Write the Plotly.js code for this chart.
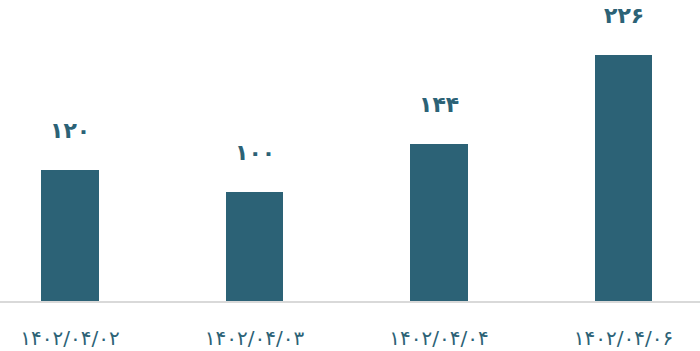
<!DOCTYPE html>
<html>
<head>
<meta charset="utf-8">
<script src="https://cdn.plot.ly/plotly-3.0.1.min.js"></script>
<style>
  html, body { margin: 0; padding: 0; background: #ffffff; }
  #chart { width: 700px; height: 351px; }
</style>
</head>
<body>
<div id="chart"></div>
<script>
// Daily totals by Jalali date
const categories = ['۱۴۰۲/۰۴/۰۲', '۱۴۰۲/۰۴/۰۳', '۱۴۰۲/۰۴/۰۴', '۱۴۰۲/۰۴/۰۶'];
const values = [120, 100, 144, 226];

const barColor = '#2c6276';
const textColor = '#2c6276';

// Render Western digits as Persian digits
function toPersianDigits(n) {
  const fa = '۰۱۲۳۴۵۶۷۸۹';
  return String(n).replace(/[0-9]/g, d => fa[+d]);
}

const trace = {
  type: 'bar',
  x: categories,
  y: values,
  width: 0.314,
  marker: { color: barColor },
  hoverinfo: 'none'
};

const annotations = categories.map((c, i) => ({
  x: c,
  y: values[i],
  xref: 'x',
  yref: 'y',
  text: toPersianDigits(values[i]),
  showarrow: false,
  yanchor: 'middle',
  yshift: 40,
  font: { family: 'DejaVu Sans, Noto Sans, sans-serif', size: 22, color: textColor, weight: 'bold' }
}));

const layout = {
  width: 700,
  height: 351,
  margin: { l: 0, r: 0, t: 20, b: 50 },
  paper_bgcolor: '#ffffff',
  plot_bgcolor: '#ffffff',
  showlegend: false,
  bargap: 0,
  xaxis: {
    type: 'category',
    range: [-0.3794, 3.4146],
    showline: true,
    linecolor: '#d9d9d9',
    linewidth: 2,
    showgrid: false,
    zeroline: false,
    ticks: 'outside',
    ticklen: 18,
    tickcolor: 'rgba(0,0,0,0)',
    tickfont: { family: 'DejaVu Sans, Noto Sans, sans-serif', size: 20, color: textColor }
  },
  yaxis: {
    range: [0, 258.2],
    visible: false,
    showgrid: false,
    zeroline: false
  },
  annotations: annotations
};

Plotly.newPlot('chart', [trace], layout, { displayModeBar: false, staticPlot: true });
</script>
</body>
</html>
